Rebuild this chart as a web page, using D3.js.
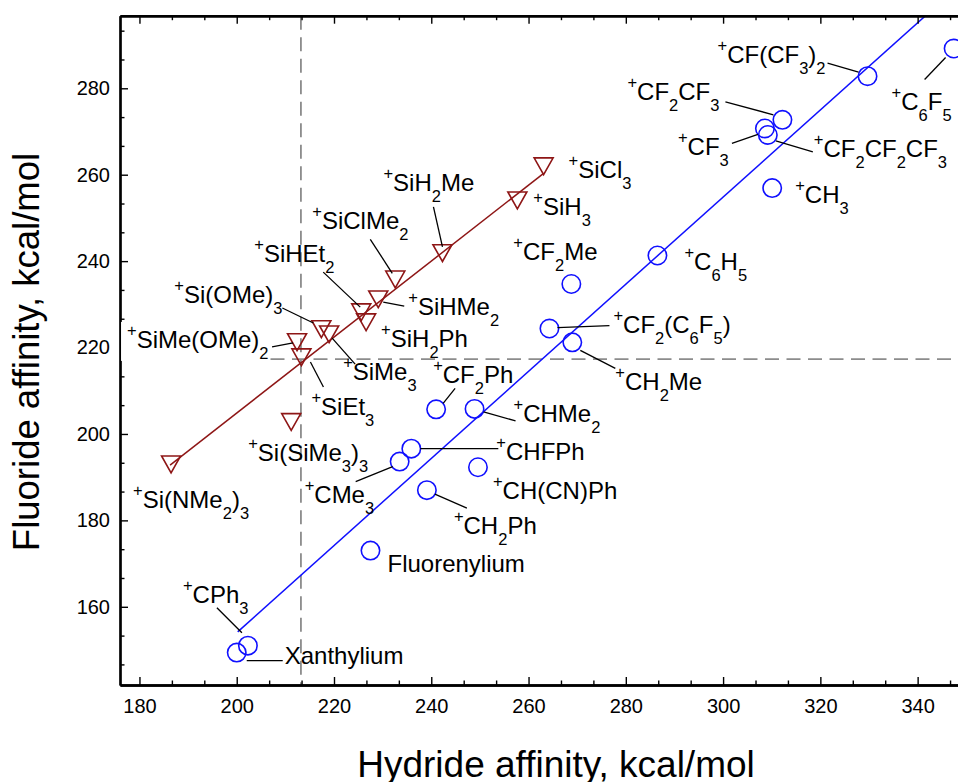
<!DOCTYPE html>
<html><head><meta charset="utf-8">
<script src="https://cdn.jsdelivr.net/npm/d3@7"></script>
<style>html,body{margin:0;padding:0;background:#fff;} svg{display:block;}</style>
</head><body>
<svg id="chart" width="958" height="782"></svg>
<script>
// ---------------- data ----------------
const siNames = ["^+Si(NMe_2)_3","^+Si(SiMe_3)_3","^+SiEt_3","^+SiMe(OMe)_2","^+Si(OMe)_3","^+SiMe_3",
                 "^+SiHEt_2","^+SiH_2Ph","^+SiHMe_2","^+SiClMe_2","^+SiH_2Me","^+SiH_3","^+SiCl_3"];
const siHydride  = [186.5, 211.2, 213.3, 212.4, 217.4, 219.0, 225.6, 226.6, 229.1, 232.6, 242.3, 257.7, 263.1];
const siFluoride = [193.0, 202.8, 217.8, 221.3, 224.3, 223.1, 228.2, 225.9, 231.2, 235.8, 241.9, 254.1, 262.0];

const cNames = ["^+CF(CF_3)_2","^+C_6F_5","^+CF_2CF_3","^+CF_3","^+CF_2CF_2CF_3","^+CH_3","^+C_6H_5","^+CF_2Me",
                "^+CF_2(C_6F_5)","^+CH_2Me","^+CF_2Ph","^+CHMe_2","^+CHFPh","^+CMe_3","^+CH(CN)Ph","^+CH_2Ph",
                "Fluorenylium","^+CPh_3","Xanthylium"];
const cHydride  = [329.7, 347.4, 312.2, 308.6, 309.2, 310.1, 286.5, 268.8, 264.3, 269.0, 241.0, 248.9, 235.9, 233.5, 249.6, 239.1, 227.5, 202.3, 200.0];
const cFluoride = [282.8, 289.2, 272.7, 270.7, 269.2, 256.9, 241.3, 234.7, 224.4, 221.2, 205.7, 205.8, 196.6, 193.6, 192.3, 187.0, 173.0, 151.0, 149.4];

const siFit = [[186.3, 192.8], [263.1, 260.3]];
const cFit  = [[200.2, 154.2], [345.0, 300.2]];
const hydrideRef = 213.2, fluorideRef = 217.3;

const xTicks = [180, 200, 220, 240, 260, 280, 300, 320, 340];
const yTicks = [160, 180, 200, 220, 240, 260, 280];
const xTitle = "Hydride affinity, kcal/mol";
const yTitle = "Fluoride affinity, kcal/mol";

// ---------------- label layout (pixel offsets from each point) ----------------
const siLabelLayout = [
  {dx:-38, dy:44}, {dx:-43, dy:39}, {dx:10, dy:58, l:[9,5,22,30]}, {dx:-170, dy:6, l:[-25,5,-4,1], box:true},
  {dx:-147, dy:-26, l:[-39,-21,-8,-6]}, {dx:14, dy:46, l:[3,4,26,30]}, {dx:-107, dy:-50, l:[-38,-40,-1,-5]},
  {dx:15, dy:25}, {dx:30, dy:16, l:[5,3,26,7]}, {dx:-83, dy:-50, l:[-25,-40,-3,-6]},
  {dx:-59, dy:-62, l:[-9,-46,0,-6]}, {dx:16, dy:15}, {dx:25, dy:12}
];
const cLabelLayout = [
  {dx:-150, dy:-13, l:[-40,-13,-9,-4]}, {dx:-62, dy:61, l:[-29,31,-8,9]}, {dx:-155, dy:-20, l:[-57,-18,-9,-5]},
  {dx:-87, dy:27, l:[-33,15,-7,6]}, {dx:46, dy:22, l:[8,6,45,17]}, {dx:23, dy:15}, {dx:27, dy:14},
  {dx:-58, dy:-24}, {dx:64, dy:4, l:[8,-1,60,-3]}, {dx:43, dy:48, l:[8,8,43,26]},
  {dx:-3, dy:-26, l:[7,-6,19,-21]}, {dx:39, dy:13, l:[9,3,41,12]}, {dx:85, dy:11, l:[9,0,87,0]},
  {dx:-95, dy:41, l:[-44,20,-7,5]}, {dx:15, dy:32}, {dx:27, dy:44, l:[8,4,40,18]},
  {dx:17, dy:21}, {dx:-65, dy:-43, l:[-31,-38,-6,-13]}, {dx:48, dy:11, l:[10,8,46,8]}
];

// ---------------- drawing ----------------
const W = 958, H = 782;
const L = 120, R = 958, T = 15.7, B = 685;
const FONT = "'Liberation Sans', Arial, Helvetica, sans-serif";
const RED = "#8e1616", BLUE = "#1010ff";

const x = d3.scaleLinear().domain([176, 348.3]).range([L, R]);
const y = d3.scaleLinear().domain([141.9, 296.8]).range([B, T]);

const svg = d3.select("#chart");
svg.append("rect").attr("width", W).attr("height", H).attr("fill", "#fff");
svg.append("defs").append("clipPath").attr("id", "plotclip")
  .append("rect").attr("x", L).attr("y", T).attr("width", R - L).attr("height", B - T);

const plot = svg.append("g").attr("clip-path", "url(#plotclip)");

// reference dashed lines
plot.append("line").attr("x1", x(hydrideRef)).attr("x2", x(hydrideRef)).attr("y1", T).attr("y2", B)
  .attr("stroke", "#8c8c8c").attr("stroke-width", 1.8).attr("stroke-dasharray", "14,7.5");
plot.append("line").attr("x1", L).attr("x2", R).attr("y1", y(fluorideRef)).attr("y2", y(fluorideRef))
  .attr("stroke", "#8c8c8c").attr("stroke-width", 1.8).attr("stroke-dasharray", "14,7.5");

// fit lines
const lineGen = d3.line().x(d => x(d[0])).y(d => y(d[1]));
plot.append("path").attr("d", lineGen(siFit)).attr("fill", "none").attr("stroke", RED).attr("stroke-width", 1.5);
plot.append("path").attr("d", lineGen(cFit)).attr("fill", "none").attr("stroke", BLUE).attr("stroke-width", 1.5);

// markers
const siData = siNames.map((n, i) => ({name: n, hx: siHydride[i], fy: siFluoride[i], lay: siLabelLayout[i]}));
const cData  = cNames.map((n, i) => ({name: n, hx: cHydride[i], fy: cFluoride[i], lay: cLabelLayout[i]}));

const triPath = "M-9.5,-8.2L9.5,-8.2L0,8.6Z";
plot.selectAll("path.tri").data(siData).enter().append("path").attr("class", "tri")
  .attr("d", triPath).attr("transform", d => `translate(${x(d.hx)},${y(d.fy)})`)
  .attr("fill", "none").attr("stroke", RED).attr("stroke-width", 1.6);
plot.selectAll("circle.c").data(cData).enter().append("circle").attr("class", "c")
  .attr("cx", d => x(d.hx)).attr("cy", d => y(d.fy)).attr("r", 9.2)
  .attr("fill", "none").attr("stroke", BLUE).attr("stroke-width", 1.6);

// axes
const minor = (ticks, dom) => {
  const step = (ticks[1] - ticks[0]) / 3, out = [];
  for (let v = ticks[0] - 3 * step; v <= ticks[ticks.length - 1] + 3 * step + 1e-9; v += step) {
    const r = Math.round(v * 1000) / 1000;
    if (r >= dom[0] && r <= dom[1] && !ticks.some(t => Math.abs(t - r) < 1e-6)) out.push(r);
  }
  return out;
};
const xMinor = minor(xTicks, x.domain()), yMinor = minor(yTicks, y.domain());

function styleAxis(g, w) {
  g.select(".domain").attr("stroke", "#000").attr("stroke-width", w);
  g.selectAll(".tick line").attr("stroke", "#000").attr("stroke-width", 1.4);
  g.selectAll(".tick text").attr("font-family", FONT).attr("font-size", 20).attr("fill", "#000");
}
const axes = svg.append("g");
// bottom
axes.append("g").attr("transform", `translate(0,${B})`)
  .call(d3.axisBottom(x).tickValues(xMinor).tickSize(-4.5).tickSizeOuter(0).tickFormat(""))
  .call(g => styleAxis(g, 2.4));
axes.append("g").attr("transform", `translate(0,${B})`)
  .call(d3.axisBottom(x).tickValues(xTicks).tickSize(-8).tickSizeOuter(0).tickPadding(14).tickFormat(d3.format("d")))
  .call(g => styleAxis(g, 2.4));
// top
axes.append("g").attr("transform", `translate(0,${T})`)
  .call(d3.axisTop(x).tickValues(xMinor).tickSize(-4.5).tickSizeOuter(0).tickFormat(""))
  .call(g => styleAxis(g, 2.4));
axes.append("g").attr("transform", `translate(0,${T})`)
  .call(d3.axisTop(x).tickValues(xTicks).tickSize(-8).tickSizeOuter(0).tickFormat(""))
  .call(g => styleAxis(g, 2.4));
// left
axes.append("g").attr("transform", `translate(${L},0)`)
  .call(d3.axisLeft(y).tickValues(yMinor).tickSize(-4.5).tickSizeOuter(0).tickFormat(""))
  .call(g => styleAxis(g, 2.2));
axes.append("g").attr("transform", `translate(${L},0)`)
  .call(d3.axisLeft(y).tickValues(yTicks).tickSize(-8).tickSizeOuter(0).tickPadding(10).tickFormat(d3.format("d")))
  .call(g => styleAxis(g, 2.2));

// axis titles
svg.append("text").attr("x", 556).attr("y", 777).attr("text-anchor", "middle")
  .attr("font-family", FONT).attr("font-size", 37).attr("fill", "#000").text(xTitle);
svg.append("text").attr("transform", "translate(39,352) rotate(-90)").attr("text-anchor", "middle")
  .attr("font-family", FONT).attr("font-size", 36.5).attr("fill", "#000").text(yTitle);

// labels
function parse(s) {
  const segs = []; let cur = "";
  for (let i = 0; i < s.length; i++) {
    const c = s[i];
    if (c === "^" || c === "_") {
      if (cur) { segs.push({t: cur, k: "n"}); cur = ""; }
      segs.push({t: s[i + 1], k: c === "^" ? "sup" : "sub"}); i++;
    } else cur += c;
  }
  if (cur) segs.push({t: cur, k: "n"});
  return segs;
}
const shift = {n: 0, sup: -12, sub: 11};
const lab = svg.append("g");
function drawLabels(data) {
  data.forEach(d => {
    const px = x(d.hx), py = y(d.fy), lay = d.lay;
    if (lay.l) {
      lab.append("line").attr("x1", px + lay.l[0]).attr("y1", py + lay.l[1])
        .attr("x2", px + lay.l[2]).attr("y2", py + lay.l[3])
        .attr("stroke", "#000").attr("stroke-width", 1.3);
    }
    const t = lab.append("text").attr("x", px + lay.dx).attr("y", py + lay.dy)
      .attr("font-family", FONT).attr("font-size", 24).attr("fill", "#000");
    let prev = 0;
    parse(d.name).forEach(sg => {
      t.append("tspan").attr("dy", shift[sg.k] - prev)
        .attr("font-size", sg.k === "n" ? 24 : 16.5).text(sg.t);
      prev = shift[sg.k];
    });
    if (lay.box) {
      const bb = t.node().getBBox();
      lab.insert("rect", () => t.node())
        .attr("x", bb.x - 6).attr("y", bb.y + 1).attr("width", bb.width + 7).attr("height", bb.height - 2)
        .attr("fill", "#fff");
    }
  });
}
drawLabels(siData);
drawLabels(cData);
</script>
</body></html>
